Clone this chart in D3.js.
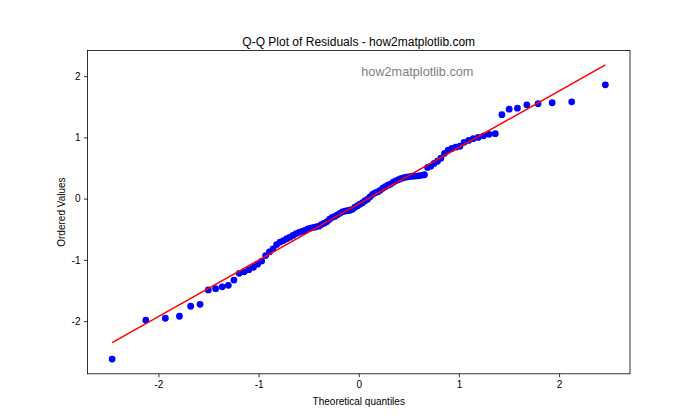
<!DOCTYPE html>
<html>
<head>
<meta charset="utf-8">
<script src="https://cdn.jsdelivr.net/npm/d3@7"></script>
<style>
  html, body { margin: 0; padding: 0; background: #fff; }
  svg { display: block; font-family: "Liberation Sans", "Open Sans", sans-serif; }
</style>
</head>
<body>
<svg id="chart" width="700" height="420"></svg>
<script>
// Theoretical quantiles (order-statistic medians, n = 100)
const theoretical = [-2.462,-2.126,-1.931,-1.790,-1.678,-1.584,-1.502,-1.429,-1.363,-1.302,
  -1.246,-1.193,-1.144,-1.097,-1.052,-1.010,-0.969,-0.930,-0.892,-0.856,
  -0.820,-0.786,-0.752,-0.719,-0.687,-0.656,-0.625,-0.595,-0.566,-0.537,
  -0.508,-0.480,-0.452,-0.425,-0.397,-0.370,-0.344,-0.317,-0.291,-0.265,
  -0.240,-0.214,-0.188,-0.163,-0.138,-0.113,-0.088,-0.063,-0.038,-0.012,
  0.012,0.038,0.063,0.088,0.113,0.138,0.163,0.188,0.214,0.240,
  0.265,0.291,0.317,0.344,0.370,0.397,0.425,0.452,0.480,0.508,
  0.537,0.566,0.595,0.625,0.656,0.687,0.719,0.752,0.786,0.820,
  0.856,0.892,0.930,0.969,1.010,1.052,1.097,1.144,1.193,1.246,
  1.302,1.363,1.429,1.502,1.584,1.678,1.790,1.931,2.126,2.462];

// Ordered residual values
const ordered = [-2.62,-1.985,-1.953,-1.92,-1.757,-1.725,-1.49,-1.47,-1.44,-1.415,
  -1.33,-1.22,-1.195,-1.16,-1.12,-1.07,-1.02,-0.93,-0.87,-0.82,
  -0.75,-0.71,-0.685,-0.655,-0.63,-0.60,-0.57,-0.55,-0.535,-0.52,
  -0.495,-0.48,-0.47,-0.46,-0.45,-0.42,-0.40,-0.375,-0.335,-0.305,
  -0.29,-0.265,-0.24,-0.215,-0.205,-0.197,-0.19,-0.175,-0.14,-0.116,
  -0.09,-0.067,-0.034,-0.01,0.03,0.07,0.095,0.11,0.135,0.17,
  0.195,0.22,0.235,0.267,0.29,0.31,0.33,0.344,0.352,0.36,
  0.365,0.368,0.373,0.38,0.39,0.51,0.53,0.575,0.61,0.66,
  0.74,0.79,0.82,0.84,0.855,0.92,0.95,0.98,1.0,1.025,
  1.05,1.06,1.37,1.46,1.477,1.532,1.549,1.565,1.581,1.858];

// Fitted reference line
const fitSlope = 0.921;
const fitIntercept = -0.085;

const xTicks = [-2, -1, 0, 1, 2];
const yTicks = [-2, -1, 0, 1, 2];

const titleText = "Q-Q Plot of Residuals - how2matplotlib.com";
const xLabel = "Theoretical quantiles";
const yLabel = "Ordered Values";
const watermark = "how2matplotlib.com";

const W = 700, H = 420;
const margin = { left: 87.5, right: 70, top: 50.4, bottom: 46.2 };
const iw = W - margin.left - margin.right;
const ih = H - margin.top - margin.bottom;

const svg = d3.select("#chart");
const g = svg.append("g").attr("transform", `translate(${margin.left},${margin.top})`);

const x = d3.scaleLinear().domain([-2.708, 2.708]).range([0, iw]);
const y = d3.scaleLinear().domain([-2.86, 2.42]).range([ih, 0]);

svg.append("defs").append("clipPath").attr("id", "clip")
  .append("rect").attr("width", iw).attr("height", ih);

// points
const pts = theoretical.map((t, i) => ({ x: t, y: ordered[i] }));
g.append("g").attr("clip-path", "url(#clip)")
  .selectAll("circle").data(pts).join("circle")
  .attr("cx", d => x(d.x)).attr("cy", d => y(d.y))
  .attr("r", 3.4).attr("fill", "#0000ff");

// fitted line
const lineX = [d3.min(theoretical), d3.max(theoretical)];
g.append("path")
  .datum(lineX.map(v => ({ x: v, y: fitSlope * v + fitIntercept })))
  .attr("d", d3.line().x(d => x(d.x)).y(d => y(d.y)))
  .attr("fill", "none").attr("stroke", "#ff0000").attr("stroke-width", 1.5);

// watermark
g.append("text")
  .attr("x", x(0.585)).attr("y", y(2.01))
  .attr("text-anchor", "middle")
  .attr("font-size", 12.7)
  .attr("fill", "#808080")
  .text(watermark);

// axes
const fmt = d => (d < 0 ? "-" + Math.abs(d) : String(d));
const xAxis = g.append("g").attr("transform", `translate(0,${ih})`)
  .call(d3.axisBottom(x).tickValues(xTicks).tickFormat(fmt).tickSize(3.5).tickPadding(3.5));
const yAxis = g.append("g")
  .call(d3.axisLeft(y).tickValues(yTicks).tickFormat(fmt).tickSize(3.5).tickPadding(3.5));
[xAxis, yAxis].forEach(a => {
  a.select(".domain").remove();
  a.selectAll("line").attr("stroke", "#000").attr("stroke-width", 0.8);
  a.selectAll("text").attr("font-size", 10).attr("fill", "#000")
    .attr("font-family", "Liberation Sans, sans-serif");
});

// frame
g.append("rect").attr("width", iw).attr("height", ih)
  .attr("fill", "none").attr("stroke", "#000").attr("stroke-width", 0.8);

// title & labels
svg.append("text")
  .attr("x", margin.left + iw / 2).attr("y", 45.5)
  .attr("text-anchor", "middle").attr("font-size", 12).attr("fill", "#000")
  .text(titleText);
svg.append("text")
  .attr("x", margin.left + iw / 2).attr("y", 405)
  .attr("text-anchor", "middle").attr("font-size", 10).attr("fill", "#000")
  .text(xLabel);
svg.append("text")
  .attr("transform", `translate(65,${margin.top + ih / 2}) rotate(-90)`)
  .attr("text-anchor", "middle").attr("font-size", 10).attr("fill", "#000")
  .text(yLabel);
</script>
</body>
</html>
